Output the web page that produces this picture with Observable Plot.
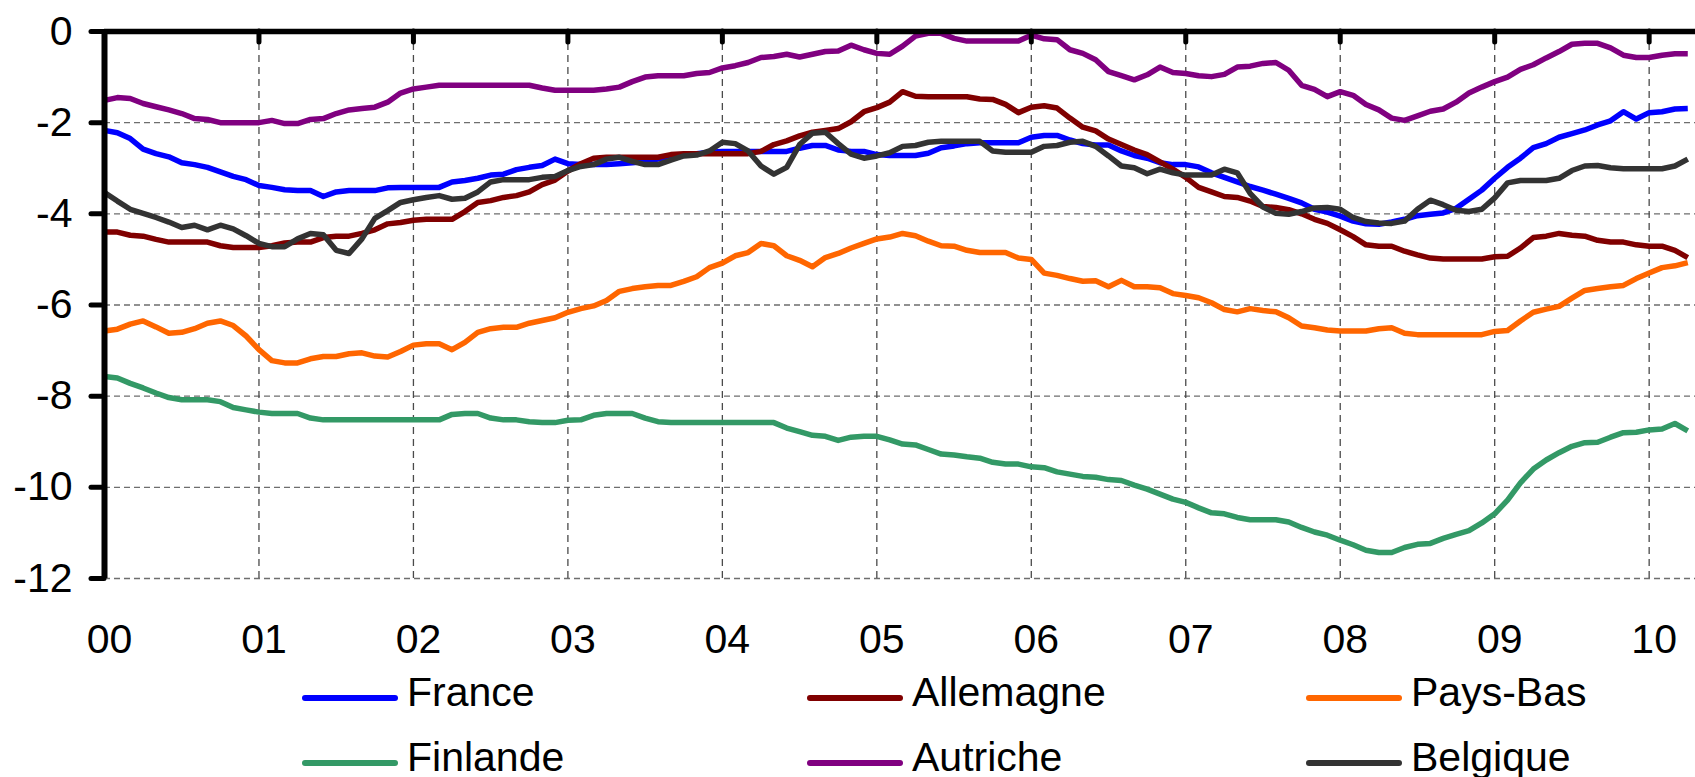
<!DOCTYPE html>
<html>
<head>
<meta charset="utf-8">
<script src="https://cdn.jsdelivr.net/npm/d3@7"></script>
<script src="https://cdn.jsdelivr.net/npm/@observablehq/plot@0.6"></script>
<style>
  html, body { margin: 0; padding: 0; background: #fff; overflow: hidden; }
  #wrap { position: relative; width: 1695px; height: 777px; font-family: "Liberation Sans", Arial, sans-serif; }
  #chart { position: absolute; left: 0; top: 0; }
  .sw { position: absolute; width: 96px; height: 6px; border-radius: 3px; }
  .lb { position: absolute; font-size: 41px; line-height: 41px; color: #000; white-space: nowrap; }
</style>
</head>
<body>
<div id="wrap"><div id="chart"></div></div>
<script>
// ---- data (monthly, Jan 2000 onward) ----
const seriesNames = ["France", "Allemagne", "Pays-Bas", "Finlande", "Autriche", "Belgique"];
const seriesColors = ["#0000ff", "#800000", "#ff6600", "#339966", "#800080", "#333333"];

const france = [-2.17,-2.22,-2.35,-2.58,-2.68,-2.75,-2.88,-2.92,-2.98,-3.08,
 -3.18,-3.25,-3.38,-3.42,-3.47,-3.49,-3.49,-3.62,-3.52,-3.49,
 -3.49,-3.49,-3.43,-3.42,-3.42,-3.42,-3.42,-3.30,-3.27,-3.22,
 -3.15,-3.13,-3.03,-2.98,-2.94,-2.80,-2.90,-2.92,-2.92,-2.92,
 -2.90,-2.88,-2.85,-2.80,-2.75,-2.70,-2.68,-2.65,-2.63,-2.63,
 -2.63,-2.63,-2.63,-2.63,-2.56,-2.50,-2.50,-2.60,-2.63,-2.63,
 -2.70,-2.72,-2.72,-2.72,-2.67,-2.55,-2.51,-2.46,-2.44,-2.44,
 -2.44,-2.44,-2.32,-2.28,-2.28,-2.38,-2.46,-2.49,-2.49,-2.62,
 -2.72,-2.78,-2.88,-2.92,-2.92,-2.97,-3.10,-3.20,-3.30,-3.40,
 -3.48,-3.57,-3.66,-3.76,-3.90,-3.96,-4.05,-4.16,-4.22,-4.23,
 -4.18,-4.12,-4.04,-4.01,-3.98,-3.88,-3.68,-3.48,-3.22,-2.98,
 -2.78,-2.55,-2.46,-2.32,-2.24,-2.16,-2.05,-1.96,-1.76,-1.92,
 -1.78,-1.76,-1.70,-1.69];

const allemagne = [-4.40,-4.40,-4.47,-4.49,-4.56,-4.62,-4.62,-4.62,-4.62,-4.70,
 -4.74,-4.74,-4.74,-4.70,-4.64,-4.62,-4.62,-4.52,-4.49,-4.49,
 -4.43,-4.35,-4.22,-4.19,-4.14,-4.12,-4.12,-4.12,-3.95,-3.75,
 -3.71,-3.64,-3.60,-3.52,-3.36,-3.26,-3.06,-2.90,-2.78,-2.76,
 -2.76,-2.76,-2.76,-2.76,-2.70,-2.68,-2.68,-2.68,-2.68,-2.68,
 -2.68,-2.63,-2.48,-2.40,-2.29,-2.21,-2.17,-2.13,-1.98,-1.76,
 -1.67,-1.55,-1.32,-1.42,-1.43,-1.43,-1.43,-1.43,-1.48,-1.49,
 -1.60,-1.78,-1.66,-1.63,-1.68,-1.90,-2.10,-2.18,-2.36,-2.48,
 -2.60,-2.70,-2.86,-3.02,-3.20,-3.42,-3.52,-3.62,-3.64,-3.72,
 -3.84,-3.86,-3.91,-4.00,-4.12,-4.21,-4.35,-4.50,-4.68,-4.71,
 -4.71,-4.82,-4.90,-4.97,-4.99,-4.99,-4.99,-4.99,-4.94,-4.93,
 -4.75,-4.52,-4.49,-4.43,-4.47,-4.49,-4.58,-4.62,-4.62,-4.68,
 -4.71,-4.71,-4.80,-4.96];

const paysBas = [-6.57,-6.53,-6.42,-6.35,-6.48,-6.62,-6.60,-6.52,-6.40,-6.35,
 -6.45,-6.68,-6.98,-7.22,-7.27,-7.27,-7.18,-7.13,-7.13,-7.07,
 -7.05,-7.12,-7.14,-7.02,-6.88,-6.85,-6.85,-6.98,-6.82,-6.60,
 -6.52,-6.49,-6.49,-6.40,-6.34,-6.28,-6.16,-6.08,-6.02,-5.90,
 -5.70,-5.64,-5.60,-5.57,-5.57,-5.48,-5.38,-5.18,-5.08,-4.92,
 -4.85,-4.65,-4.70,-4.92,-5.02,-5.16,-4.96,-4.87,-4.75,-4.65,
 -4.55,-4.51,-4.43,-4.48,-4.60,-4.70,-4.71,-4.80,-4.85,-4.85,
 -4.85,-4.97,-5.00,-5.30,-5.35,-5.42,-5.48,-5.47,-5.60,-5.46,
 -5.60,-5.60,-5.62,-5.75,-5.79,-5.84,-5.95,-6.10,-6.15,-6.08,
 -6.12,-6.15,-6.28,-6.46,-6.50,-6.55,-6.57,-6.57,-6.57,-6.52,
 -6.50,-6.62,-6.65,-6.65,-6.65,-6.65,-6.65,-6.65,-6.58,-6.56,
 -6.35,-6.16,-6.09,-6.03,-5.85,-5.68,-5.64,-5.60,-5.57,-5.42,
 -5.30,-5.18,-5.14,-5.07];

const finlande = [-7.57,-7.60,-7.72,-7.82,-7.93,-8.03,-8.08,-8.08,-8.08,-8.12,
 -8.25,-8.30,-8.35,-8.38,-8.38,-8.38,-8.48,-8.52,-8.52,-8.52,
 -8.52,-8.52,-8.52,-8.52,-8.52,-8.52,-8.52,-8.40,-8.38,-8.38,
 -8.48,-8.52,-8.52,-8.56,-8.58,-8.58,-8.53,-8.52,-8.42,-8.38,
 -8.38,-8.38,-8.48,-8.56,-8.58,-8.58,-8.58,-8.58,-8.58,-8.58,
 -8.58,-8.58,-8.58,-8.70,-8.78,-8.86,-8.88,-8.97,-8.90,-8.88,
 -8.88,-8.96,-9.05,-9.07,-9.17,-9.27,-9.29,-9.33,-9.36,-9.45,
 -9.49,-9.49,-9.55,-9.57,-9.66,-9.71,-9.76,-9.78,-9.83,-9.85,
 -9.95,-10.04,-10.15,-10.26,-10.33,-10.45,-10.56,-10.58,-10.66,-10.71,
 -10.71,-10.71,-10.76,-10.88,-10.98,-11.05,-11.16,-11.26,-11.38,-11.43,
 -11.43,-11.32,-11.25,-11.23,-11.12,-11.03,-10.95,-10.78,-10.58,-10.28,
 -9.90,-9.60,-9.40,-9.24,-9.10,-9.02,-9.01,-8.90,-8.80,-8.79,
 -8.74,-8.72,-8.60,-8.76];

const autriche = [-1.51,-1.45,-1.47,-1.58,-1.65,-1.72,-1.80,-1.91,-1.93,-2.00,
 -2.00,-2.00,-2.00,-1.95,-2.02,-2.02,-1.93,-1.91,-1.80,-1.72,
 -1.69,-1.66,-1.55,-1.35,-1.26,-1.22,-1.18,-1.18,-1.18,-1.18,
 -1.18,-1.18,-1.18,-1.18,-1.24,-1.29,-1.29,-1.29,-1.29,-1.26,
 -1.22,-1.10,-1.00,-0.97,-0.97,-0.97,-0.92,-0.90,-0.80,-0.75,
 -0.68,-0.57,-0.55,-0.50,-0.56,-0.50,-0.44,-0.43,-0.30,-0.40,
 -0.48,-0.50,-0.32,-0.10,-0.04,-0.04,-0.15,-0.21,-0.21,-0.21,
 -0.21,-0.21,-0.08,-0.16,-0.18,-0.40,-0.48,-0.62,-0.88,-0.97,
 -1.06,-0.95,-0.78,-0.90,-0.92,-0.97,-0.99,-0.94,-0.78,-0.76,
 -0.70,-0.68,-0.85,-1.18,-1.27,-1.43,-1.32,-1.40,-1.60,-1.72,
 -1.90,-1.95,-1.85,-1.75,-1.70,-1.55,-1.35,-1.22,-1.10,-1.00,
 -0.83,-0.73,-0.58,-0.44,-0.28,-0.26,-0.26,-0.36,-0.52,-0.57,
 -0.57,-0.52,-0.49,-0.49];

const belgique = [-3.53,-3.72,-3.90,-3.99,-4.08,-4.18,-4.30,-4.25,-4.35,-4.25,
 -4.33,-4.48,-4.65,-4.72,-4.72,-4.55,-4.43,-4.46,-4.80,-4.87,
 -4.55,-4.10,-3.93,-3.75,-3.69,-3.64,-3.60,-3.68,-3.66,-3.52,
 -3.30,-3.25,-3.25,-3.25,-3.20,-3.18,-3.05,-2.96,-2.92,-2.80,
 -2.76,-2.85,-2.92,-2.92,-2.82,-2.73,-2.71,-2.62,-2.43,-2.46,
 -2.62,-2.95,-3.13,-2.98,-2.48,-2.23,-2.21,-2.46,-2.69,-2.78,
 -2.73,-2.66,-2.52,-2.50,-2.43,-2.41,-2.41,-2.41,-2.41,-2.62,
 -2.65,-2.65,-2.65,-2.52,-2.50,-2.43,-2.41,-2.52,-2.73,-2.95,
 -2.99,-3.12,-3.02,-3.10,-3.15,-3.15,-3.15,-3.02,-3.10,-3.55,
 -3.85,-3.99,-4.01,-3.95,-3.87,-3.86,-3.90,-4.08,-4.17,-4.20,
 -4.21,-4.16,-3.90,-3.70,-3.80,-3.92,-3.95,-3.90,-3.65,-3.32,
 -3.27,-3.27,-3.27,-3.22,-3.05,-2.95,-2.94,-2.99,-3.01,-3.01,
 -3.01,-3.01,-2.95,-2.80];

const seriesValues = [france, allemagne, paysBas, finlande, autriche, belgique];

const xTickValues = [0,1,2,3,4,5,6,7,8,9,10];
const xTickLabels = ["00","01","02","03","04","05","06","07","08","09","10"];
const yTickValues = [0,-2,-4,-6,-8,-10,-12];
const yGridValues = [-2,-4,-6,-8,-10,-12];

// ---- chart ----
const W = 1695, H = 665;
const MT = 31, PLOT_BOTTOM = 578;
const frameH = PLOT_BOTTOM - MT;
const yMin = -12, yMax = 0;
// inward tick length (pixels) expressed in y units
const topTickPx = 11;
const topTickLen = topTickPx * (yMax - yMin) / frameH;

const lineMarks = seriesValues.map((vals, s) =>
  Plot.line(vals, {
    x: (d, i) => i / 12,
    y: d => d,
    stroke: seriesColors[s],
    strokeWidth: 5.5,
    strokeLinejoin: "round",
    strokeLinecap: "butt",
    clip: true
  })
);

const chart = Plot.plot({
  width: W,
  height: H,
  marginLeft: 104,
  marginRight: 0,
  marginTop: MT,
  marginBottom: H - PLOT_BOTTOM,
  style: { fontFamily: "'Liberation Sans', Arial, sans-serif", fontSize: "41px", color: "#000", background: "#fff", overflow: "visible" },
  x: { domain: [0, 10.3], label: null },
  y: { domain: [yMin, yMax], label: null },
  marks: [
    Plot.ruleY(yGridValues, { stroke: "#6e6e6e", strokeWidth: 1.4, strokeDasharray: "6,4" }),
    Plot.ruleX(xTickValues.slice(1), { y1: yMax, y2: yMin, stroke: "#4a4a4a", strokeWidth: 1.3, strokeDasharray: "7,5" }),
    ...lineMarks,
    Plot.ruleY([0], { stroke: "#000", strokeWidth: 5.5 }),
    Plot.ruleX([0], { y1: yMin, y2: yMax, stroke: "#000", strokeWidth: 6 }),
    // inward tick marks hanging from the top axis line
    Plot.ruleX(xTickValues.slice(1), { y1: yMax, y2: yMax - topTickLen, stroke: "#000", strokeWidth: 5, strokeLinecap: "round" }),
    Plot.axisY(yTickValues, { tickSize: 13, tickPadding: 19, strokeWidth: 5, strokeLinecap: "round", tickFormat: d => String(d), fontSize: 41, label: null }),
    Plot.axisX(xTickValues, { anchor: "bottom", tickSize: 0, tickPadding: 45, dx: 5, tickFormat: d => xTickLabels[d], fontSize: 41, label: null })
  ]
});
document.getElementById("chart").appendChild(chart);

// ---- legend ----
const wrap = document.getElementById("wrap");
const legendCols = [302, 807, 1306];
const legendRows = [698, 763];
seriesNames.forEach((name, s) => {
  const col = s % 3, row = Math.floor(s / 3);
  const sw = document.createElement("div");
  sw.className = "sw";
  sw.style.left = legendCols[col] + "px";
  sw.style.top = (legendRows[row] - 3) + "px";
  sw.style.background = seriesColors[s];
  wrap.appendChild(sw);
  const lb = document.createElement("div");
  lb.className = "lb";
  lb.style.left = (legendCols[col] + 105) + "px";
  lb.style.top = (legendRows[row] + 9 - 35) + "px";
  lb.textContent = name;
  wrap.appendChild(lb);
});
</script>
</body>
</html>
